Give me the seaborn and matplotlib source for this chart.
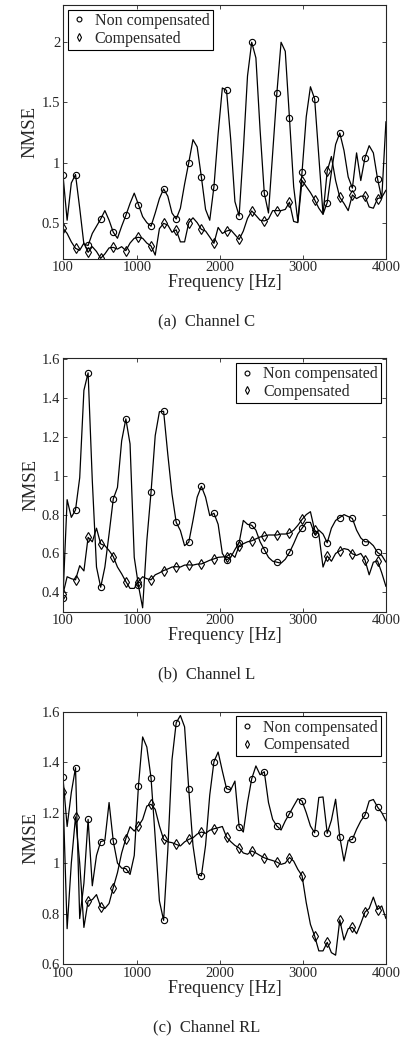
import numpy as np
import pandas as pd
import matplotlib
matplotlib.use("Agg")
import matplotlib.pyplot as plt
from matplotlib.lines import Line2D
import seaborn as sns

# frequency grid (78 bins from 100 to 4000 Hz), markers every 3rd bin
freq = np.linspace(100, 4000, 78)
xticks = [100, 1000, 2000, 3000, 4000]

# channel C
c_nc = [0.90, 0.52, 0.83, 0.90, 0.62, 0.32, 0.31, 0.41, 0.47, 0.53,
        0.60, 0.52, 0.42, 0.37, 0.47, 0.56, 0.66, 0.745, 0.65, 0.55,
        0.50, 0.47, 0.58, 0.70, 0.78, 0.72, 0.58, 0.53, 0.62, 0.82,
        1.00, 1.19, 1.13, 0.88, 0.61, 0.52, 0.80, 1.24, 1.62, 1.60,
        1.19, 0.675, 0.556, 1.10, 1.72, 2.00, 1.87, 1.27, 0.744, 0.58,
        1.08, 1.578, 2.00, 1.925, 1.37, 0.80, 0.51, 0.92, 1.38, 1.63,
        1.53, 1.05, 0.57, 0.667, 0.92, 1.15, 1.245, 1.10, 0.88, 0.787,
        1.08, 0.85, 1.04, 1.14, 1.08, 0.864, 0.70, 1.34]
c_comp = [0.453, 0.41, 0.34, 0.286, 0.27, 0.33, 0.253, 0.30, 0.26, 0.203,
          0.24, 0.29, 0.294, 0.28, 0.30, 0.267, 0.33, 0.37, 0.378, 0.37,
          0.33, 0.306, 0.23, 0.45, 0.494, 0.48, 0.42, 0.44, 0.34, 0.34,
          0.50, 0.54, 0.50, 0.444, 0.43, 0.38, 0.328, 0.46, 0.41, 0.43,
          0.44, 0.40, 0.36, 0.43, 0.535, 0.597, 0.56, 0.52, 0.514, 0.53,
          0.60, 0.60, 0.60, 0.61, 0.67, 0.51, 0.50, 0.85, 0.80, 0.75,
          0.69, 0.62, 0.57, 0.93, 1.05, 0.85, 0.71, 0.66, 0.60, 0.73,
          0.70, 0.72, 0.72, 0.63, 0.62, 0.70, 0.71, 0.77]

# channel L
l_nc = [0.37, 0.877, 0.786, 0.824, 0.99, 1.44, 1.53, 0.975, 0.53, 0.426,
        0.53, 0.70, 0.881, 0.94, 1.18, 1.293, 1.164, 0.58, 0.435, 0.32,
        0.666, 0.915, 1.207, 1.33, 1.332, 1.11, 0.906, 0.76, 0.718, 0.64,
        0.658, 0.77, 0.89, 0.946, 0.89, 0.795, 0.807, 0.75, 0.60, 0.567,
        0.58, 0.62, 0.655, 0.77, 0.75, 0.745, 0.72, 0.66, 0.62, 0.58,
        0.56, 0.555, 0.55, 0.57, 0.605, 0.65, 0.70, 0.73, 0.76, 0.76,
        0.70, 0.72, 0.70, 0.655, 0.73, 0.77, 0.785, 0.80, 0.79, 0.78,
        0.72, 0.68, 0.66, 0.66, 0.64, 0.605, 0.59, 0.555]
l_comp = [0.39, 0.48, 0.47, 0.464, 0.537, 0.51, 0.683, 0.66, 0.73, 0.649,
          0.64, 0.615, 0.584, 0.53, 0.495, 0.455, 0.42, 0.42, 0.455, 0.48,
          0.47, 0.464, 0.49, 0.50, 0.512, 0.52, 0.53, 0.532, 0.53, 0.54,
          0.541, 0.54, 0.545, 0.546, 0.555, 0.565, 0.572, 0.58, 0.582, 0.584,
          0.60, 0.58, 0.64, 0.65, 0.66, 0.665, 0.675, 0.685, 0.69, 0.695,
          0.695, 0.695, 0.70, 0.70, 0.705, 0.72, 0.745, 0.775, 0.80, 0.815,
          0.72, 0.70, 0.53, 0.587, 0.56, 0.60, 0.613, 0.625, 0.62, 0.598,
          0.59, 0.60, 0.567, 0.49, 0.555, 0.562, 0.50, 0.43]

# channel RL
rl_nc = [1.34, 1.145, 1.28, 1.378, 0.78, 0.92, 1.173, 0.91, 1.03, 1.085,
         1.09, 1.24, 1.087, 1.00, 0.98, 0.978, 0.955, 1.03, 1.305, 1.50,
         1.46, 1.338, 1.10, 0.85, 0.773, 1.05, 1.41, 1.556, 1.585, 1.54,
         1.292, 1.07, 0.955, 0.949, 1.07, 1.27, 1.402, 1.44, 1.365, 1.295,
         1.29, 1.325, 1.144, 1.123, 1.24, 1.334, 1.385, 1.35, 1.362, 1.24,
         1.173, 1.147, 1.131, 1.167, 1.196, 1.226, 1.255, 1.246, 1.20, 1.147,
         1.12, 1.26, 1.262, 1.118, 1.17, 1.253, 1.103, 1.008, 1.09, 1.094,
         1.134, 1.167, 1.19, 1.246, 1.252, 1.222, 1.20, 1.167]
rl_comp = [1.28, 0.74, 1.00, 1.183, 1.00, 0.745, 0.85, 0.855, 0.875, 0.826,
           0.82, 0.84, 0.903, 0.962, 1.04, 1.097, 1.144, 1.127, 1.147, 1.173,
           1.226, 1.233, 1.213, 1.147, 1.094, 1.084, 1.081, 1.074, 1.068, 1.084,
           1.094, 1.10, 1.115, 1.123, 1.118, 1.13, 1.136, 1.14, 1.145, 1.103,
           1.085, 1.07, 1.06, 1.04, 1.035, 1.048, 1.04, 1.03, 1.021, 1.015,
           1.01, 1.004, 0.995, 1.00, 1.022, 1.008, 0.975, 0.95, 0.843, 0.757,
           0.711, 0.652, 0.652, 0.686, 0.645, 0.635, 0.775, 0.695, 0.74, 0.745,
           0.72, 0.76, 0.806, 0.82, 0.865, 0.816, 0.83, 0.78]

sns.set_style("ticks")
plt.rcParams["font.family"] = ["Liberation Serif", "DejaVu Serif"]

fig = plt.figure(figsize=(4.06, 10.39), dpi=100)

H = 1039.0
panels = [
    dict(nc=c_nc, comp=c_comp, pos=[0.155, 1 - 258.7 / H, 0.7956, 253.7 / H],
         ylim=(0.2, 2.31), yticks=[0.5, 1, 1.5, 2], yfmt=["0.5", "1", "1.5", "2"],
         loc="upper left", caption="(a)  Channel C", cap_y=1 - 321 / H),
    dict(nc=l_nc, comp=l_comp, pos=[0.155, 1 - 611.7 / H, 0.7956, 253.4 / H],
         ylim=(0.3, 1.605), yticks=[0.4, 0.6, 0.8, 1, 1.2, 1.4, 1.6],
         yfmt=["0.4", "0.6", "0.8", "1", "1.2", "1.4", "1.6"],
         loc="upper right", caption="(b)  Channel L", cap_y=1 - 674 / H),
    dict(nc=rl_nc, comp=rl_comp, pos=[0.155, 1 - 964.0 / H, 0.7956, 252.3 / H],
         ylim=(0.6, 1.6), yticks=[0.6, 0.8, 1, 1.2, 1.4, 1.6],
         yfmt=["0.6", "0.8", "1", "1.2", "1.4", "1.6"],
         loc="upper right", caption="(c)  Channel RL", cap_y=1 - 1027 / H),
]

for p in panels:
    ax = fig.add_axes(p["pos"])
    df = pd.DataFrame({"freq": freq, "nc": p["nc"], "comp": p["comp"]})
    sns.lineplot(data=df, x="freq", y="nc", ax=ax, color="k", lw=0.9,
                 marker="o", markevery=3, ms=4.5, mfc="none", mec="k", mew=0.8,
                 estimator=None, sort=False)
    sns.lineplot(data=df, x="freq", y="comp", ax=ax, color="k", lw=0.9,
                 marker="d", markevery=3, ms=5, mfc="none", mec="k", mew=0.8,
                 estimator=None, sort=False)
    ax.set_xlim(100, 4000)
    ax.set_ylim(*p["ylim"])
    ax.set_xticks(xticks)
    ax.set_xticklabels([str(t) for t in xticks])
    ax.set_yticks(p["yticks"])
    ax.set_yticklabels(p["yfmt"])
    ax.tick_params(direction="in", top=True, right=True, length=3, width=0.6,
                   labelsize=10.5, pad=2)
    for s in ax.spines.values():
        s.set_linewidth(0.8)
        s.set_visible(True)
    ax.set_xlabel("Frequency [Hz]", fontsize=13, labelpad=0)
    ax.set_ylabel("NMSE", fontsize=13.5, labelpad=2)
    handles = [Line2D([], [], ls="none", marker="o", ms=3.5, mfc="none", mec="k", mew=0.8),
               Line2D([], [], ls="none", marker="d", ms=4, mfc="none", mec="k", mew=0.8)]
    leg = ax.legend(handles, ["Non compensated", "Compensated"], loc=p["loc"],
                    fontsize=11.5, frameon=True, fancybox=False, edgecolor="k",
                    framealpha=1, borderaxespad=0.3, handlelength=1.0,
                    handletextpad=0.5, borderpad=0.2, labelspacing=0.1)
    leg.get_frame().set_linewidth(0.8)
    fig.text(0.51, p["cap_y"], p["caption"], ha="center", va="center", fontsize=12)

fig.savefig("out.png", dpi=100)
